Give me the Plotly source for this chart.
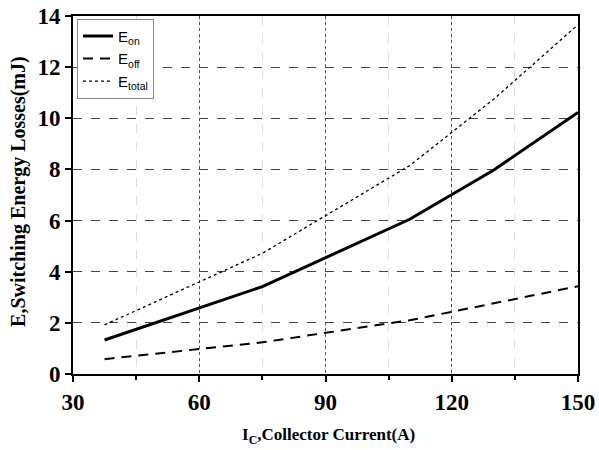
import plotly.graph_objects as go

# Collector current (A) and switching energy losses (mJ)
ic = [37.5, 75, 110, 130, 150]
e_on = [1.33, 3.42, 6.05, 7.98, 10.23]
e_off = [0.58, 1.24, 2.10, 2.77, 3.43]
e_total = [1.92, 4.72, 8.15, 10.75, 13.66]

x_ticks = [30, 60, 90, 120, 150]
y_ticks = [0, 2, 4, 6, 8, 10, 12, 14]

fig = go.Figure()
fig.add_trace(go.Scatter(x=ic, y=e_on, mode="lines", name="E<sub>on</sub>",
                         line=dict(color="black", width=3)))
fig.add_trace(go.Scatter(x=ic, y=e_off, mode="lines", name="E<sub>off</sub>",
                         line=dict(color="black", width=2, dash="10px,7px")))
fig.add_trace(go.Scatter(x=ic, y=e_total, mode="lines", name="E<sub>total</sub>",
                         line=dict(color="black", width=1.3, dash="dot")))

tick_font = dict(family="Liberation Serif", size=23, color="black")

fig.update_layout(
    width=599, height=450,
    margin=dict(l=73, r=21, t=16, b=76),
    paper_bgcolor="white", plot_bgcolor="white",
    showlegend=True,
    legend=dict(x=0.008, y=0.992, xanchor="left", yanchor="top",
                bgcolor="white", bordercolor="#888", borderwidth=1,
                font=dict(family="Liberation Sans", size=15, color="black"),
                tracegroupgap=0, itemwidth=30),
    xaxis=dict(
        range=[30, 150], tickvals=x_ticks, ticktext=[f"<b>{v}</b>" for v in x_ticks],
        tickfont=tick_font, ticks="outside", ticklen=6, tickwidth=1.5, tickcolor="black",
        showline=True, linecolor="black", linewidth=1.8, mirror=True,
        showgrid=True, gridcolor="#555", gridwidth=1, griddash="dot",
        minor=dict(dtick=15, tick0=30, ticks="outside", ticklen=4, tickcolor="black",
                   showgrid=True, gridcolor="#dddddd", griddash="dash", gridwidth=1),
        zeroline=False, automargin=False,
    ),
    yaxis=dict(
        range=[0, 14], tickvals=y_ticks, ticktext=[f"<b>{v}</b>" for v in y_ticks],
        tickfont=tick_font, ticks="outside", ticklen=6, tickwidth=1.5, tickcolor="black",
        showline=True, linecolor="black", linewidth=1.8, mirror=True,
        showgrid=True, gridcolor="#444", gridwidth=1, griddash="dash",
        zeroline=False, automargin=False,
    ),
    annotations=[
        dict(text="<b>I<sub>C</sub>,Collector Current(A)</b>", xref="paper", yref="paper",
             x=0.505, y=-0.172, xanchor="center", yanchor="middle", showarrow=False,
             font=dict(family="Liberation Serif", size=17, color="black")),
        dict(text="<b>E,Switching Energy Losses(mJ)</b>", xref="paper", yref="paper",
             x=-0.108, y=0.51, xanchor="center", yanchor="middle", showarrow=False,
             textangle=-90,
             font=dict(family="Liberation Serif", size=20, color="black")),
    ],
)

fig.write_html("out.html")
